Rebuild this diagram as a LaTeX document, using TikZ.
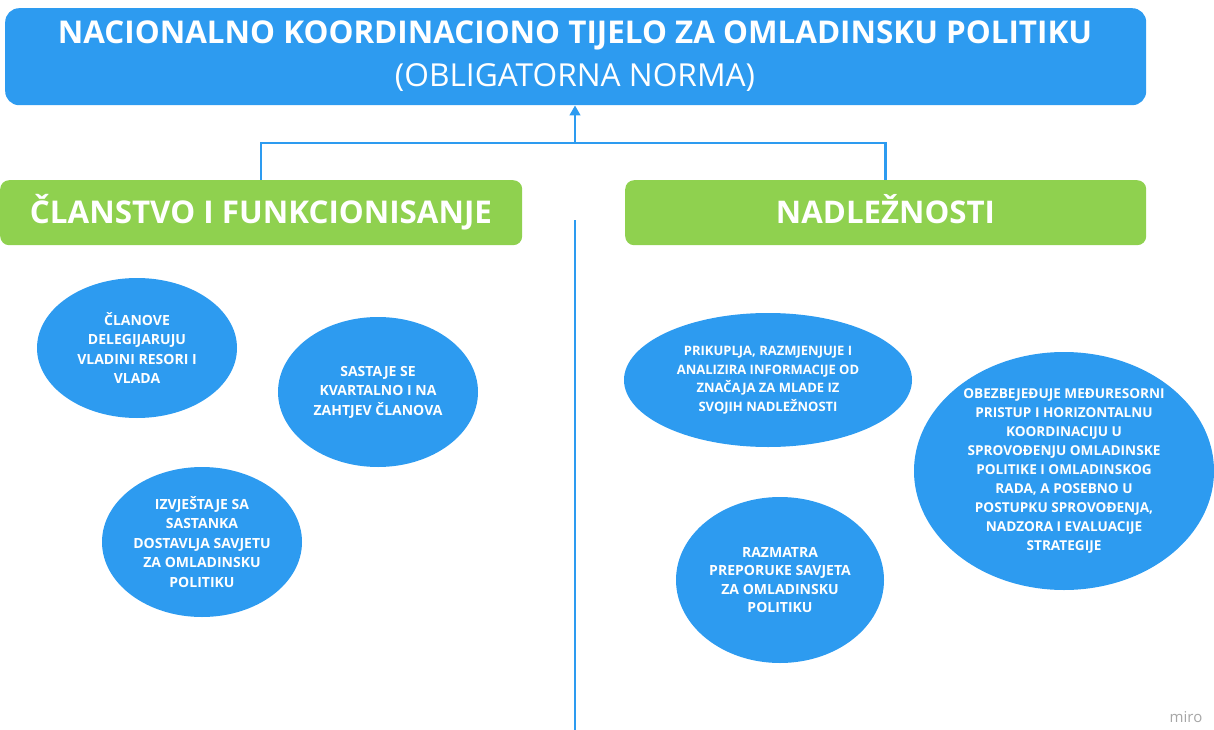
\documentclass[tikz,border=0pt]{standalone}
\usepackage{fontspec}
\setmainfont{Open Sans}
\usetikzlibrary{arrows.meta,shapes.geometric}
\definecolor{mblue}{HTML}{2D9BF0}
\definecolor{mgreen}{HTML}{8FD14F}
\begin{document}
\begin{tikzpicture}[x=1pt,y=-1pt,
  topbox/.style={fill=mblue, rounded corners=14pt, inner sep=0pt, anchor=north west},
  greenbox/.style={fill=mgreen, rounded corners=9pt, inner sep=0pt, anchor=north west},
  headtext/.style={text=white, inner sep=0pt, anchor=base},
  bubble/.style={ellipse, fill=mblue, inner sep=0pt, text=white, align=center,
    font=\fontsize{14}{19.5}\selectfont\bfseries},
  link/.style={draw=mblue, line width=2.5pt},
  tip/.style={-{Triangle[length=4pt 2.4, width=4pt 2.6]}},
]
\useasboundingbox (0,0) rectangle (1214,730);

% top box
\node[topbox, minimum width=1141pt, minimum height=97pt] (top) at (5,8) {};
\node[headtext] (title) at (575,44) {\resizebox{1034pt}{!}{\bfseries NACIONALNO KOORDINACIONO TIJELO ZA OMLADINSKU POLITIKU}};
\node[headtext] (sub) at (575,87) {\resizebox{360pt}{!}{(OBLIGATORNA NORMA)}};

% green boxes
\node[greenbox, minimum width=522pt, minimum height=65pt] (lg) at (0,180) {};
\node[headtext] (lgt) at (261,223) {\resizebox{462pt}{!}{\bfseries ČLANSTVO I FUNKCIONISANJE}};
\node[greenbox, minimum width=521pt, minimum height=65pt] (rg) at (625,180) {};
\node[headtext] (rgt) at (885.5,223) {\resizebox{219pt}{!}{\bfseries NADLEŽNOSTI}};

% connectors
\coordinate (j) at (575,143);
\draw[link] (lg.north) |- (j);
\draw[link] (rg.north) |- (j);
\draw[link, tip] (j) -- (j |- top.south);
\coordinate (m1) at (575,220);
\coordinate (m2) at (575,730);
\draw[link] (m1) -- (m2);

% bubbles left
\node[bubble, minimum width=200pt, minimum height=140pt] (e1) at (137,348)
  {ČLANOVE\\DELEGIJARUJU\\VLADINI RESORI I\\VLADA};
\node[bubble, minimum width=200pt, minimum height=150pt] (e2) at (378,392)
  {SASTAJE SE\\KVARTALNO I NA\\ZAHTJEV ČLANOVA};
\node[bubble, minimum width=200pt, minimum height=150pt] (e3) at (202,542)
  {IZVJEŠTAJE SA\\SASTANKA\\DOSTAVLJA SAVJETU\\ZA OMLADINSKU\\POLITIKU};

% bubbles right
\node[bubble, minimum width=288pt, minimum height=134pt, font=\fontsize{13}{18.5}\selectfont\bfseries] (e4) at (768,380)
  {PRIKUPLJA, RAZMJENJUJE I\\ANALIZIRA INFORMACIJE OD\\ZNAČAJA ZA MLADE IZ\\SVOJIH NADLEŽNOSTI};
\node[bubble, minimum width=208pt, minimum height=166pt, font=\fontsize{14}{18.5}\selectfont\bfseries] (e5) at (780,580)
  {RAZMATRA\\PREPORUKE SAVJETA\\ZA OMLADINSKU\\POLITIKU};
\node[bubble, minimum width=300pt, minimum height=238pt, font=\fontsize{13.6}{19}\selectfont\bfseries] (e6) at (1064,471)
  {OBEZBEJEĐUJE MEĐURESORNI\\PRISTUP I HORIZONTALNU\\KOORDINACIJU U\\SPROVOĐENJU OMLADINSKE\\POLITIKE I OMLADINSKOG\\RADA, A POSEBNO U\\POSTUPKU SPROVOĐENJA,\\NADZORA I EVALUACIJE\\STRATEGIJE};

% logo
\node[text=black!35, inner sep=0pt, anchor=base, font=\fontsize{15}{15}\selectfont] (miro) at (1186,722) {miro};
\end{tikzpicture}
\end{document}
